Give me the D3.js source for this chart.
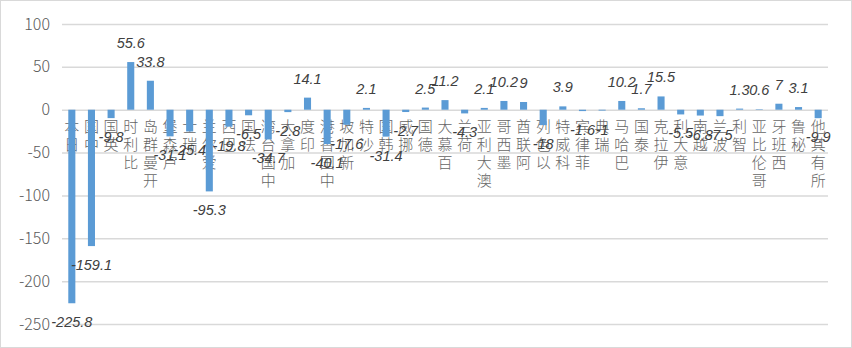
<!DOCTYPE html>
<html>
<head>
  <meta charset="utf-8">
  <title>美债持有变化</title>
  <script src="https://d3js.org/d3.v7.min.js"></script>
  <style>
    html, body { margin: 0; padding: 0; background: #fff; }
    svg { display: block; }
  </style>
</head>
<body>
  <div id="vis"></div>
  <script>

    const countries = ["日本", "中国", "英国", "比利时", "开曼群岛", "卢森堡", "瑞士", "爱尔兰", "巴西", "法国",
      "中国台湾", "加拿大", "印度", "中国香港", "新加坡", "沙特", "韩国", "挪威", "德国", "百慕大",
      "荷兰", "澳大利亚", "墨西哥", "阿联酋", "以色列", "科威特", "菲律宾", "瑞典", "巴哈马", "泰国",
      "伊拉克", "意大利", "越南", "波兰", "智利", "哥伦比亚", "西班牙", "秘鲁", "所有其他"]
    const changes = [-225.8, -159.1, -9.8, 55.6, 33.8, -31.1, -25.4, -95.3, -19.8, -6.5,
      -34.7, -2.8, 14.1, -40.1, -17.6, 2.1, -31.4, -2.7, 2.5, 11.2,
      -4.3, 2.1, 10.2, 9, -18, 3.9, -1.6, -1, 10.2, 1.7,
      15.5, -5.5, -6.8, -7.5, 1.3, 0.6, 7, 3.1, -9.9]
    const yTicks = [100, 50, 0, -50, -100, -150, -200, -250]

    const width = 852
    const height = 348
    const plotLeft = 62, plotRight = 828, plotTop = 24, plotBottom = 324

    const data = countries.map((c, i) => ({ name: c, value: changes[i] }))

    const x = d3.scaleBand()
      .domain(countries)
      .range([plotLeft, plotRight])
      .paddingInner(0.64)
      .paddingOuter(0.32)

    const y = d3.scaleLinear()
      .domain([-250, 100])
      .range([plotBottom, plotTop])

    const svg = d3.select("#vis")
      .append("svg")
      .attr("width", width)
      .attr("height", height)

    // chart border
    svg.append("rect")
      .attr("x", 0.5).attr("y", 0.5)
      .attr("width", width - 1).attr("height", height - 1)
      .attr("fill", "#fff")
      .attr("stroke", "#d9d9d9")

    // gridlines + tick labels
    const yAxis = d3.axisLeft(y)
      .tickValues(yTicks)
      .tickSize(-(plotRight - plotLeft))
      .tickPadding(12)
      .tickFormat(d3.format("d"))

    svg.append("g")
      .attr("transform", `translate(${plotLeft},0)`)
      .call(yAxis)
      .call(g => g.select(".domain").remove())
      .call(g => g.selectAll(".tick line").attr("stroke", "#d9d9d9").attr("stroke-width", 1.5))
      .call(g => g.selectAll(".tick text")
        .attr("fill", "#595959")
        .attr("font-family", "'Noto Sans CJK SC', sans-serif")
        .attr("font-weight", 300)
        .attr("font-size", 16)
        .text(d => d < 0 ? "-" + Math.abs(d) : d))

    // category labels, stacked characters reading upward from below the zero line
    svg.append("g")
      .selectAll("text")
      .data(data)
      .join("text")
      .attr("fill", "#666")
      .attr("font-family", "'Noto Sans CJK SC', sans-serif")
      .attr("font-weight", 300)
      .attr("font-size", 15)
      .attr("text-anchor", "middle")
      .each(function (d) {
        const chars = Array.from(d.name).reverse()
        const t = d3.select(this)
        chars.forEach((ch, k) => {
          t.append("tspan")
            .attr("x", x(d.name) + x.bandwidth() / 2)
            .attr("y", y(0) + 22 + k * 18)
            .text(ch)
        })
      })

    // bars
    svg.append("g")
      .selectAll("rect")
      .data(data)
      .join("rect")
      .attr("x", d => x(d.name))
      .attr("width", x.bandwidth())
      .attr("y", d => y(Math.max(0, d.value)))
      .attr("height", d => Math.abs(y(d.value) - y(0)))
      .attr("fill", "#5b9bd5")

    // data labels
    svg.append("g")
      .selectAll("text")
      .data(data)
      .join("text")
      .attr("x", d => x(d.name) + x.bandwidth() / 2)
      .attr("y", d => d.value >= 0 ? y(d.value) - 14 : y(d.value) + 24)
      .attr("text-anchor", "middle")
      .attr("fill", "#404040")
      .attr("font-family", "'Liberation Sans', Arial, sans-serif")
      .attr("font-style", "italic")
      .attr("font-size", 14.5)
      .text(d => d.value)
  </script>
</body>
</html>
